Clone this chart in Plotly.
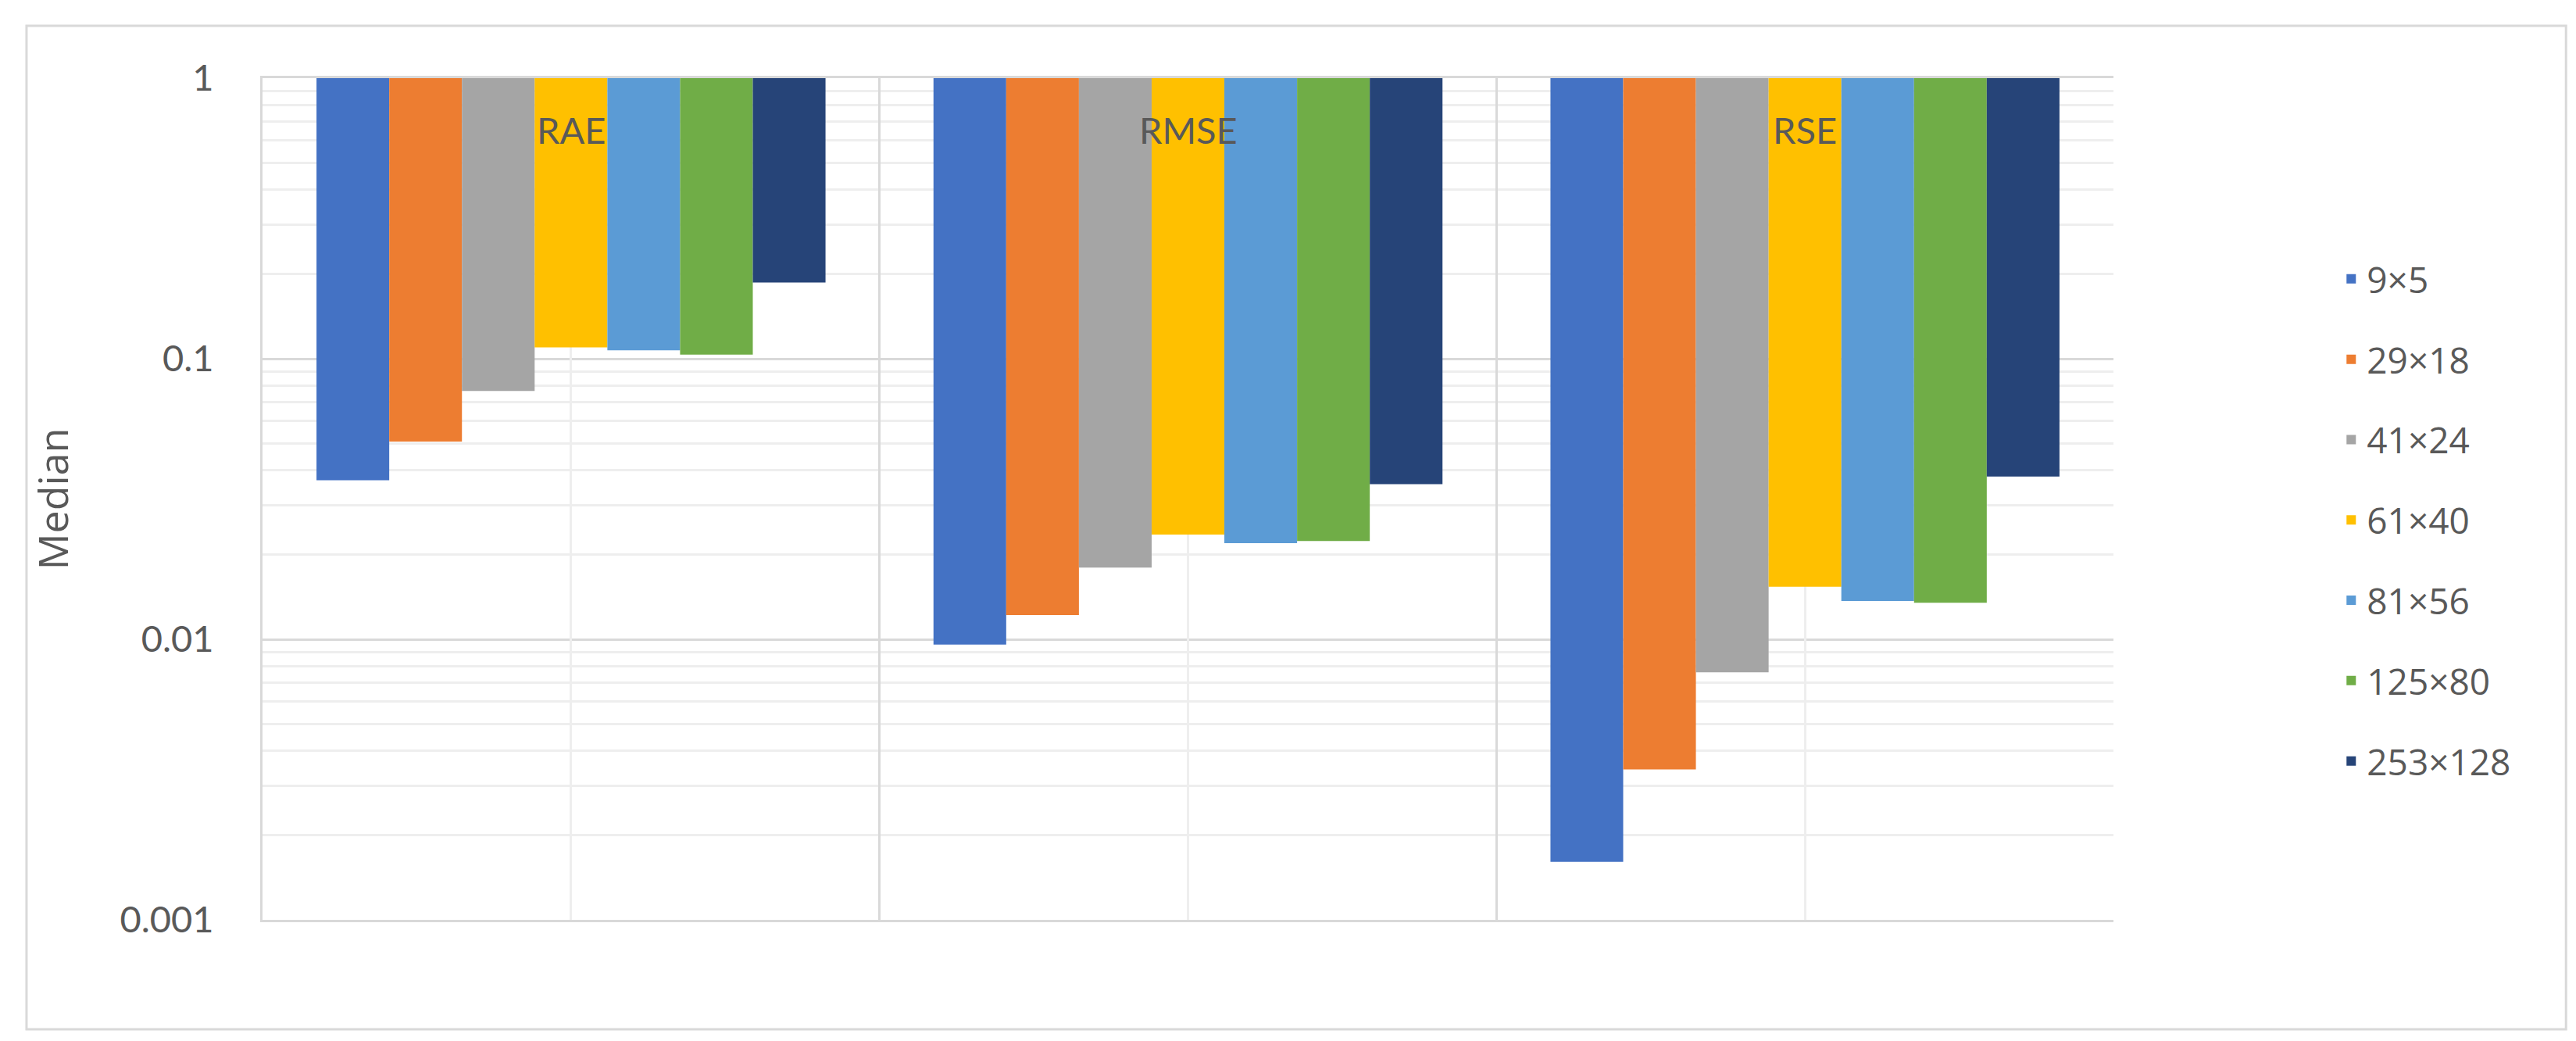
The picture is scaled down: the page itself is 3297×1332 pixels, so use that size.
import plotly.graph_objects as go

categories = ["RAE", "RMSE", "RSE"]
series_names = ["9×5", "29×18", "41×24", "61×40", "81×56", "125×80", "253×128"]
colors = ["#4472C4", "#ED7D31", "#A5A5A5", "#FFC000", "#5B9BD5", "#70AD47", "#264478"]

s_9x5 = [0.0369, 0.00958, 0.00161]
s_29x18 = [0.0507, 0.0122, 0.00344]
s_41x24 = [0.0767, 0.0180, 0.00763]
s_61x40 = [0.1097, 0.0236, 0.0154]
s_81x56 = [0.1072, 0.0220, 0.0137]
s_125x80 = [0.1035, 0.0224, 0.0135]
s_253x128 = [0.187, 0.0357, 0.0380]
series_values = [s_9x5, s_29x18, s_41x24, s_61x40, s_81x56, s_125x80, s_253x128]

y_tickvals = [0.001, 0.01, 0.1, 1]
y_ticktext = ["0.001", "0.01", "0.1", "1"]
axis_cross = 1  # bars hang down from the value-axis crossing at 1

W, H = 3297, 1332
L, R, T, B = 328, 600, 92, 163

fig = go.Figure()
for name, vals, col in zip(series_names, series_values, colors):
    fig.add_trace(go.Bar(
        name=name, x=categories,
        y=[v - axis_cross for v in vals], base=axis_cross,
        marker=dict(color=col, line=dict(width=0)),
        legendgroup=name,
    ))

# invisible helper trace for the center (minor) vertical gridlines
fig.add_trace(go.Scatter(x=categories, y=[axis_cross]*len(categories), xaxis="x2",
                         mode="markers", marker=dict(opacity=0), showlegend=False,
                         hoverinfo="skip"))

label_font = dict(family="Lato", size=47, color="#595959")
for c in categories:
    fig.add_annotation(x=c, y=0, xref="x", yref="y", text=c, showarrow=False,
                       yanchor="middle", yshift=-66, font=label_font)

fig.update_layout(
    width=W, height=H,
    margin=dict(l=L, r=R, t=T, b=B, autoexpand=False),
    paper_bgcolor="white", plot_bgcolor="white",
    barmode="group", bargap=0.175, bargroupgap=0,
    xaxis=dict(type="category", categoryarray=categories, range=[-0.5, 2.5],
               tickson="boundaries", showgrid=True, gridcolor="#D9D9D9", gridwidth=3,
               showticklabels=False, ticks="", showline=True, mirror=True,
               linecolor="#D9D9D9", linewidth=3, zeroline=False),
    xaxis2=dict(type="category", categoryarray=categories, range=[-0.5, 2.5],
                overlaying="x", showgrid=True, gridcolor="#EEEEEE", gridwidth=3,
                showticklabels=False, ticks="", showline=False, zeroline=False),
    yaxis=dict(type="log", range=[-3, 0], tickvals=y_tickvals, ticktext=y_ticktext,
               showgrid=True, gridcolor="#D9D9D9", gridwidth=3,
               minor=dict(dtick="D1", showgrid=True, gridcolor="#EEEEEE", gridwidth=3, ticks=""),
               showline=True, linecolor="#D9D9D9", linewidth=3,
               ticks="", ticklabelstandoff=50,
               tickfont=dict(family="Lato", size=47, color="#595959"),
               title=dict(text="Median", standoff=50,
                          font=dict(family="Open Sans", size=52, color="#595959")),
               zeroline=False),
    legend=dict(x=1.12, xanchor="left", y=0.475, yanchor="middle",
                font=dict(family="Open Sans", size=46, color="#595959"),
                traceorder="grouped", tracegroupgap=40, bgcolor="rgba(0,0,0,0)"),
    shapes=[dict(type="rect", xref="paper", yref="paper",
                 x0=-0.1275, x1=1.2445, y0=-0.1300, y1=1.0622,
                 line=dict(color="#D9D9D9", width=3), fillcolor="rgba(0,0,0,0)", layer="below")],
)

fig.write_html("out.html")
